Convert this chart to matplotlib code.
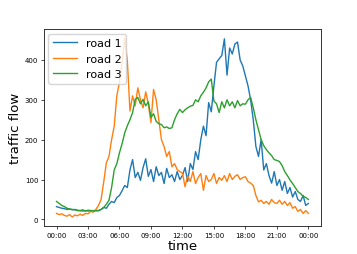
import numpy as np
import matplotlib
matplotlib.use('Agg')
import matplotlib.pyplot as plt

# hourly rows of 15-minute samples, last value is 24:00
road1 = [32, 30, 28, 27,  25, 26, 24, 25,  23, 22, 24, 21,  23, 22, 21, 23,
         22, 25, 30, 28,  38, 45, 42, 55,  60, 72, 85, 80,  124, 150, 105, 118,
         98, 130, 152, 108,  125, 95, 132, 110,  118, 90, 128, 105,  112, 95, 120, 100,
         110, 130, 95, 140,  125, 170, 150, 200,  234, 210, 293, 270,  335, 394, 403, 411,
         453, 362, 430, 415,  440, 445, 400, 385,  360, 335, 300, 250,  183, 158, 200, 124,
         140, 110, 91, 120,  85, 100, 73, 95,  65, 80, 56, 70,  50, 45, 60, 35,
         40]
road2 = [15, 12, 14, 10,  8, 12, 6, 11,  9, 13, 10, 15,  14, 20, 18, 25,
         35, 50, 94, 142,  158, 200, 234, 310,  345, 395, 455, 398,  272, 310, 285, 330,
         300, 280, 320, 290,  243, 326, 300, 250,  200, 183, 158, 170,  132, 140, 125, 120,
         116, 82, 110, 95,  120, 90, 105, 115,  73, 110, 95, 100,  115, 90, 105, 98,
         110, 95, 115, 100,  108, 112, 100, 105,  107, 95, 91, 85,  60, 44, 48, 40,
         45, 38, 50, 42,  40, 48, 38, 45,  35, 42, 28, 32,  20, 25, 15, 22,
         15]
road3 = [45, 40, 35, 32,  28, 26, 25, 24,  22, 22, 21, 22,  21, 22, 22, 21,
         22, 25, 30, 38,  48, 80, 124, 140,  167, 190, 217, 235,  250, 268, 301, 306,
         290, 301, 285, 295,  256, 265, 246, 240,  238, 230, 232, 228,  230, 250, 265, 276,
         268, 275, 280, 284,  286, 300, 295, 310,  319, 330, 345, 352,  297, 290, 268, 295,
         280, 300, 285, 295,  280, 298, 285, 290,  289, 300, 306, 280,  250, 225, 200, 185,
         175, 167, 160, 150,  148, 145, 135, 120,  110, 99, 90, 80,  70, 65, 58, 55,
         50]
tick_hours = [0, 3, 6, 9, 12, 15, 18, 21, 24]
tick_labels = ['00:00', '03:00', '06:00', '09:00', '12:00', '15:00', '18:00', '21:00', '00:00']

hours = np.arange(len(road1)) / 4.0

fig = plt.figure(figsize=(3.57, 2.55), dpi=100)
ax = fig.add_axes([0.123, 0.110, 0.776, 0.772])

ax.plot(hours, road1, color='#1f77b4', lw=1.0, label='road 1')
ax.plot(hours, road2, color='#ff7f0e', lw=1.0, label='road 2')
ax.plot(hours, road3, color='#2ca02c', lw=1.0, label='road 3')

ax.set_xticks(tick_hours)
ax.set_xticklabels(tick_labels)
ax.set_yticks([0, 100, 200, 300, 400])
ax.tick_params(labelsize=5, length=2, width=0.5, pad=2)
for s in ax.spines.values():
    s.set_linewidth(0.7)
    s.set_color('#333333')

ax.set_xlabel('time', fontsize=9.5, labelpad=1)
ax.set_ylabel('traffic flow', fontsize=9.5, labelpad=2)
ax.legend(loc='upper left', fontsize=8, handlelength=2.2, borderaxespad=0.4)

fig.savefig('out.png', dpi=100, facecolor='white')
